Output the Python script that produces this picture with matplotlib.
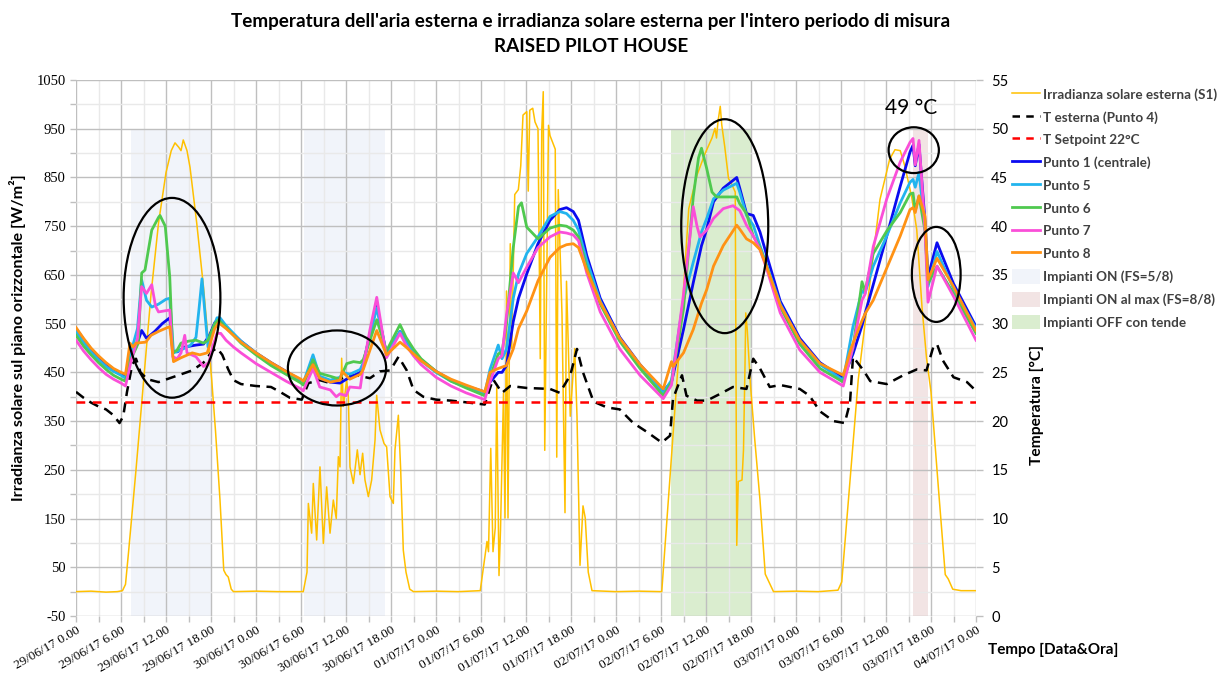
import matplotlib
matplotlib.use("Agg")
import matplotlib.pyplot as plt
from matplotlib.patches import Ellipse, Patch
from matplotlib.lines import Line2D
from matplotlib.ticker import MultipleLocator, FixedLocator

# ---------------- data (time in hours from 29/06/17 0.00) ----------------
tick_hours = list(range(0, 121, 6))
tick_labels = [
    "29/06/17 0.00", "29/06/17 6.00", "29/06/17 12.00", "29/06/17 18.00",
    "30/06/17 0.00", "30/06/17 6.00", "30/06/17 12.00", "30/06/17 18.00",
    "01/07/17 0.00", "01/07/17 6.00", "01/07/17 12.00", "01/07/17 18.00",
    "02/07/17 0.00", "02/07/17 6.00", "02/07/17 12.00", "02/07/17 18.00",
    "03/07/17 0.00", "03/07/17 6.00", "03/07/17 12.00", "03/07/17 18.00",
    "04/07/17 0.00",
]

# Solar irradiance S1 [W/m2]
irr_t = [0, 2, 4, 5.5, 6.2, 6.6, 7.0, 8.0, 9.0, 10.0, 11.0, 12.0, 12.7, 13.2, 13.7, 14.0, 14.3,
         14.8, 15.2, 16.1, 17.0, 18.1, 18.6, 19.2, 19.7, 20.0, 20.3, 20.7, 21.0, 24, 27, 30.3,
         30.8, 30.98, 31.42, 31.64, 32.09, 32.53, 32.98, 33.42, 33.87, 34.31, 34.7, 34.98, 35.2,
         35.42, 35.64, 36.09, 36.31, 36.53, 36.98, 37.51, 37.87, 38.22, 38.53, 38.98, 39.42,
         39.87, 40.09, 40.53, 41.07, 41.42, 41.87, 42.31, 42.53, 42.98, 43.29, 43.64, 44.0,
         44.5, 45.0, 48, 51, 53.9, 54.3, 54.8, 55.0, 55.3, 55.6, 55.9, 56.1, 56.4, 56.6, 57.0,
         57.2, 57.4, 57.6, 57.9, 58.1, 58.5, 58.98, 59.3, 59.6, 60.1, 60.3, 60.5, 60.9, 61.2,
         61.6, 61.9, 62.1, 62.3, 62.5, 63.0, 63.2, 63.9, 64.1, 64.3, 64.8, 65.2, 65.4, 65.9,
         66.5, 66.8, 67.2, 67.6, 67.9, 68.3, 68.8, 72, 75, 78.1, 79.5, 81.0, 81.7, 82.8, 83.9,
         84.8, 85.2, 85.4, 85.6, 85.9, 86.1, 86.5, 87.0, 87.4, 87.9, 88.1, 88.3, 88.8, 89.0,
         89.2, 89.3, 89.5, 89.9, 90.5, 91.2, 91.9, 93.0, 96, 99, 101.6, 102.1, 104.3, 105.9,
         107.2, 108.5, 109.2, 109.9, 110.5, 111.4, 112.1, 112.8, 113.4, 114.0, 115.0, 115.9,
         116.3, 116.9, 118, 120]
irr_v = [0, 1, -1, 0, 2, 15, 80, 250, 430, 610, 756, 860, 905, 921, 912, 905, 927,
         905, 871, 756, 625, 434, 330, 188, 44, 35, 30, 5, 0, 1, 0, 0,
         40, 181, 120, 222, 106, 256, 99, 215, 120, 188, 150, 277, 256,
         479, 380, 434, 400, 256, 222, 291, 240, 284, 229, 195, 229,
         311, 403, 332, 304, 297, 195, 181, 291, 362, 250, 85, 40,
         5, 0, 1, 0, 2, 47, 103, 82, 294, 82, 131, 419, 33, 127, 408,
         151, 617, 151, 714, 499, 815, 825, 874, 978, 985, 822, 988, 992, 964,
         950, 478, 947, 1026, 290, 957, 936, 908, 276, 825, 568, 162, 637, 360,
         499, 360, 54, 176, 151, 40, 2, 0, 1, 0, 300, 620, 786, 855, 900,
         931, 951, 931, 965, 996, 958, 913, 848, 837, 820, 95, 226, 229, 291,
         464, 572, 537, 430, 312, 188, 36, 0, 1, 0, 3, 20, 435, 640,
         805, 888, 907, 905, 874, 812, 743, 584, 480, 410, 210, 35,
         26, 5, 2, 2]

# Outdoor air temperature, Punto 4 [degC]
text_t = [0, 1, 2, 3, 4, 5, 5.8, 6.3, 6.8, 7.5, 8.0, 8.6, 9.5, 11.0, 12.5, 14.0, 15.5, 17.0,
          18.2, 18.8, 19.5, 20.3, 21.0, 22.0, 24.0, 26.0, 27.2, 28.5, 30.1, 31.0, 32.5, 33.9,
          36.1, 37.4, 39.2, 40.5, 41.9, 43.0, 44.1, 45.0, 46.3, 48.0, 50.0, 51.2, 54.5, 55.6,
          56.8, 57.9, 60.1, 63.2, 64.5, 65.9, 66.8, 67.6, 69.0, 70.8, 72.5, 74.3, 76.1, 78.1,
          79.2, 79.6, 80.8, 81.4, 82.8, 84.1, 85.9, 87.6, 89.4, 90.3, 91.2, 92.5, 93.9, 96.5,
          97.8, 99.2, 101.0, 102.5, 103.2, 103.6, 105.0, 105.9, 108.1, 110.3, 112.1, 113.4,
          114.3, 114.8, 115.6, 117.0, 118.8, 120.0]
text_v = [23.0, 22.4, 21.9, 21.5, 21.2, 20.6, 19.8, 20.5, 23.0, 25.8, 26.4, 25.0, 24.3, 24.0,
          24.4, 24.8, 25.2, 26.0, 27.2, 27.5, 26.8, 25.3, 24.2, 23.8, 23.6, 23.5, 23.0, 22.4,
          22.2, 23.9, 24.2, 23.9, 24.6, 24.7, 24.4, 25.1, 25.2, 26.6, 25.2, 23.2, 22.5, 22.2,
          22.1, 22.0, 21.7, 24.3, 22.9, 23.6, 23.4, 23.3, 22.9, 24.7, 27.4, 25.0, 22.0, 21.4,
          21.2, 19.8, 18.9, 17.8, 18.5, 22.3, 24.7, 22.6, 22.1, 22.1, 22.8, 23.5, 23.3, 26.4,
          25.4, 23.5, 23.7, 23.3, 22.6, 21.0, 20.0, 19.8, 21.9, 26.6, 25.2, 24.1, 23.8, 24.7,
          25.3, 25.2, 27.6, 27.9, 26.2, 24.5, 24.0, 23.1]

setpoint_t = [0, 120]
setpoint_v = [22, 22]

# Punto 1 (centrale)
p1_t = [0, 1, 2, 3, 4, 5, 6, 6.6, 7.3, 8.0, 8.75, 9.4, 10.5, 11.5, 12.5, 12.9, 13.5, 14.5, 16.0,
        17.0, 17.8, 18.5, 19.0, 20, 21, 22, 24, 26, 28, 30, 30.3, 31.6, 32.5, 33.9, 35.2, 36.5,
        37.9, 38.3, 39.2, 40.1, 41.4, 43.2, 44, 45, 46, 48, 50, 52, 54.5, 55.2, 56.3, 56.8,
        57.4, 58.3, 59.0, 60.1, 61.6, 63.2, 64.5, 65.4, 66.3, 67.0, 68.1, 69.9, 72.5, 75.2,
        78.3, 79.4, 81.0, 82.3, 83.4, 84.1, 85.0, 86.3, 88.1, 88.5, 89.4, 90.3, 91.2, 92.1,
        93.9, 96.5, 99.2, 102.3, 103.6, 104.8, 105.2, 106.3, 108.1, 109.9, 111.2, 111.6,
        111.9, 112.4, 113.2, 113.6, 114.8, 117.0, 120]
p1_v = [29.5, 28.4, 27.4, 26.6, 25.9, 25.3, 24.9, 24.6, 26.8, 27.6, 29.3, 28.5, 29.2, 30.0,
        30.6, 27.2, 27.1, 27.6, 27.8, 27.9, 28.8, 30.1, 30.5, 29.7, 28.9, 28.2, 27.0, 26.0,
        25.1, 24.2, 24.0, 25.9, 24.4, 24.0, 23.9, 24.5, 25.0, 25.8, 29.0, 31.9, 26.8, 29.2,
        28.3, 27.2, 26.3, 25.1, 24.2, 23.6, 23.0, 24.0, 25.0, 25.0, 25.7, 30.2, 32.6, 35.1,
        38.2, 40.6, 41.7, 41.9, 41.5, 40.6, 37.0, 32.6, 28.6, 25.8, 23.1, 24.0, 29.4, 34.2,
        38.0, 39.7, 42.5, 43.9, 45.0, 43.9, 41.3, 41.1, 39.4, 37.0, 32.3, 28.5, 26.0, 24.4,
        26.9, 29.8, 31.0, 34.0, 39.0, 44.1, 47.6, 48.3, 46.2, 48.4, 40.5, 34.8, 38.3, 34.1,
        29.7]

# Punto 5
p5_t = [0, 1, 2, 3, 4, 5, 6, 6.6, 7.3, 8.2, 8.75, 9.4, 10.1, 11.0, 12.0, 12.5, 13.0, 14.0, 15.3,
        16.0, 16.4, 16.8, 17.2, 17.6, 18.2, 18.8, 19.2, 20, 21, 22, 24, 26, 28, 30, 30.3, 31.6,
        32.5, 33.9, 35.2, 35.6, 36.5, 37.9, 38.3, 39.2, 40.1, 41.4, 43.2, 44, 45, 46, 48, 50,
        52, 54.5, 55.2, 56.3, 56.8, 57.4, 58.3, 59.0, 60.1, 61.6, 63.2, 64.5, 65.4, 66.3, 67.0,
        68.1, 69.9, 72.5, 75.2, 78.3, 79.4, 81.0, 82.3, 83.4, 84.1, 85.0, 86.3, 88.1, 88.5,
        89.4, 90.3, 91.2, 92.1, 93.9, 96.5, 99.2, 102.3, 103.6, 104.8, 105.2, 106.3, 108.1,
        109.9, 111.2, 111.6, 111.9, 112.4, 113.2, 113.6, 114.8, 117.0, 120]
p5_v = [29.2, 28.1, 27.1, 26.3, 25.6, 25.1, 24.7, 24.4, 27.0, 29.5, 34.5, 32.4, 31.7, 32.0,
        32.5, 32.6, 27.0, 27.3, 27.8, 28.6, 31.5, 34.6, 31.0, 27.6, 29.3, 30.6, 30.6, 29.8,
        29.0, 28.2, 27.0, 25.9, 25.0, 24.1, 23.9, 26.8, 24.6, 24.2, 24.5, 25.0, 24.8, 25.3,
        26.0, 28.8, 31.6, 27.0, 29.2, 28.2, 27.1, 26.2, 25.0, 24.1, 23.5, 22.8, 25.3, 27.8,
        26.4, 27.4, 32.6, 35.1, 37.2, 38.9, 41.0, 41.5, 41.3, 40.6, 39.6, 36.5, 32.3, 28.4,
        25.6, 22.9, 24.2, 32.5, 36.3, 39.4, 40.8, 42.8, 43.7, 44.4, 43.5, 41.1, 40.1, 38.0,
        36.0, 32.0, 28.2, 25.8, 24.2, 29.7, 33.4, 33.1, 35.9, 39.0, 42.4, 44.5, 44.8, 44.0,
        45.5, 40.0, 33.8, 37.4, 33.6, 29.5]

# Punto 6
p6_t = [0, 1, 2, 3, 4, 5, 6, 6.6, 7.3, 8.3, 8.76, 9.2, 10.1, 11.0, 11.2, 11.9, 12.3, 12.5, 12.9,
        13.5, 14.0, 15.0, 16.0, 17.0, 17.6, 18.5, 19.0, 20, 21, 22, 24, 26, 28, 30, 30.3, 31.6,
        32.5, 33.9, 35.2, 36.1, 37.0, 37.9, 38.3, 39.2, 40.1, 41.4, 43.2, 44, 45, 46, 48, 50,
        52, 54.5, 55.2, 56.3, 56.8, 57.4, 58.3, 59.0, 59.4, 60.1, 61.6, 63.2, 64.5, 65.4,
        66.3, 67.0, 68.1, 69.9, 72.5, 75.2, 78.3, 79.4, 81.0, 82.3, 83.0, 83.4, 84.1, 84.8,
        85.4, 88.1, 88.5, 89.4, 90.3, 91.2, 92.1, 93.9, 96.5, 99.2, 102.3, 103.6, 104.8,
        105.2, 106.3, 108.1, 109.9, 111.2, 111.6, 111.9, 112.4, 113.2, 113.6, 114.8, 117.0,
        120]
p6_v = [28.8, 27.7, 26.8, 26.0, 25.3, 24.7, 24.3, 24.1, 26.3, 28.0, 35.2, 35.5, 39.6, 40.9,
        41.1, 40.0, 36.5, 34.8, 27.0, 27.3, 28.0, 28.2, 28.3, 28.0, 28.3, 30.0, 30.4, 29.6,
        28.8, 28.0, 26.8, 25.7, 24.8, 23.9, 23.7, 26.3, 24.9, 24.6, 24.3, 25.9, 26.1, 26.0,
        26.3, 28.3, 30.4, 27.2, 29.9, 28.6, 27.4, 26.4, 25.1, 24.1, 23.4, 22.6, 24.5, 26.9,
        27.1, 30.0, 37.8, 42.0, 42.4, 39.9, 38.7, 39.8, 40.1, 40.0, 39.6, 38.9, 35.8, 32.0,
        28.2, 25.4, 22.6, 24.0, 31.5, 43.0, 47.0, 48.0, 45.9, 43.5, 43.0, 43.0, 42.3, 41.3,
        39.0, 37.8, 35.8, 31.7, 27.9, 25.4, 24.0, 27.5, 34.3, 33.3, 37.2, 39.5, 41.4, 43.3,
        43.4, 41.6, 43.1, 39.5, 34.1, 35.9, 33.1, 29.0]

# Punto 7
p7_t = [0, 1, 2, 3, 4, 5, 6, 6.6, 7.3, 8.2, 8.75, 9.4, 10.1, 10.6, 11.0, 12.5, 12.9, 13.5, 14.0,
        14.5, 14.8, 16.0, 17.0, 17.7, 18.3, 18.8, 19.3, 20, 21, 22, 24, 26, 28, 30, 30.3, 31.6,
        32.5, 33.9, 34.7, 35.2, 36.0, 36.5, 37.9, 38.3, 39.2, 40.1, 41.4, 43.2, 44, 45, 46,
        48, 50, 52, 54.5, 55.2, 56.3, 56.8, 57.4, 58.3, 59.0, 60.1, 61.6, 63.2, 64.5, 65.4,
        66.3, 67.0, 68.1, 69.9, 72.5, 75.2, 78.3, 79.4, 81.0, 82.3, 82.8, 83.2, 84.1, 85.0,
        86.3, 87.6, 88.5, 89.4, 90.3, 91.2, 92.1, 93.9, 96.5, 99.2, 102.3, 103.6, 104.8,
        105.2, 106.3, 108.1, 109.9, 111.2, 111.6, 111.9, 112.4, 113.2, 113.6, 114.8, 117.0,
        120]
p7_v = [28.3, 27.2, 26.3, 25.5, 24.8, 24.3, 23.9, 23.6, 26.0, 28.5, 33.8, 33.1, 34.0, 31.8,
        31.2, 31.4, 26.6, 26.4, 27.0, 28.8, 27.0, 26.6, 25.6, 26.0, 27.8, 29.0, 29.0, 28.3,
        27.6, 27.0, 25.9, 25.0, 24.1, 23.3, 23.1, 25.4, 23.5, 23.2, 22.5, 22.8, 22.6, 23.5,
        23.4, 25.6, 29.4, 32.7, 26.5, 29.0, 27.8, 26.7, 25.8, 24.5, 23.6, 22.9, 22.2, 24.0,
        26.4, 26.7, 30.9, 35.2, 34.2, 35.8, 37.8, 38.9, 39.4, 39.3, 39.1, 38.5, 35.2, 31.2,
        27.4, 24.7, 22.3, 23.7, 33.0, 42.0, 40.0, 38.9, 39.6, 40.8, 41.8, 42.1, 41.6, 40.1,
        39.0, 37.6, 35.6, 31.1, 27.3, 25.0, 23.6, 27.6, 32.4, 33.0, 37.9, 42.8, 46.6, 48.6,
        49.0, 46.3, 48.8, 39.7, 32.2, 35.9, 32.8, 28.3]

# Punto 8
p8_t = [0, 1, 2, 3, 4, 5, 6, 6.6, 7.2, 7.6, 8.0, 9.3, 10.0, 11.0, 12.5, 13.0, 14.0, 15.5, 16.5,
        17.5, 18.5, 19.0, 20, 21, 22, 24, 26, 28, 30, 30.3, 31.6, 32.5, 33.9, 35.2, 35.5, 36.5,
        37.9, 38.3, 39.2, 40.1, 41.4, 43.2, 44, 45, 46, 48, 50, 52, 54.5, 55.2, 56.3, 57.4,
        58.3, 59.0, 60.1, 61.6, 63.2, 64.5, 65.4, 66.3, 67.0, 68.1, 69.9, 72.5, 75.2, 78.3,
        79.4, 79.6, 81.0, 82.3, 83.4, 84.1, 85.0, 86.3, 88.1, 88.5, 89.4, 90.3, 91.2, 92.1,
        93.9, 96.5, 99.2, 102.3, 103.4, 104.8, 105.2, 106.3, 108.1, 109.9, 111.2, 111.6,
        111.9, 112.4, 113.2, 113.6, 114.8, 117.0, 120]
p8_v = [29.6, 28.5, 27.5, 26.7, 26.0, 25.4, 25.0, 24.8, 28.0, 27.6, 28.0, 28.1, 28.8, 29.2,
        29.7, 26.1, 26.5, 27.0, 26.8, 27.0, 29.5, 30.1, 29.5, 28.8, 28.1, 27.0, 26.0, 25.1,
        24.3, 24.1, 25.8, 24.4, 24.0, 24.2, 25.1, 24.3, 24.8, 25.3, 27.3, 29.3, 26.8, 28.1,
        27.6, 26.9, 26.2, 25.1, 24.3, 23.7, 23.0, 25.0, 25.4, 25.7, 27.4, 29.5, 31.3, 34.4,
        36.8, 37.8, 38.1, 38.2, 37.8, 35.5, 32.2, 28.5, 25.8, 23.3, 26.1, 25.6, 27.0, 29.4,
        32.1, 33.5, 35.9, 38.0, 40.1, 39.7, 38.7, 38.3, 37.6, 35.8, 31.9, 28.3, 25.9, 24.7,
        27.6, 30.3, 31.0, 32.4, 35.7, 39.0, 41.7, 41.9, 41.4, 43.1, 41.0, 34.5, 36.7, 33.8,
        29.3]

# Operating periods [start h, end h]
on_periods = [(7.3, 18.0), (30.4, 41.2)]
on_max_periods = [(111.6, 113.6)]
off_tende_periods = [(79.3, 90.0)]

# ---------------- figure ----------------
fig = plt.figure(figsize=(12.22, 6.73), dpi=100)
ax = fig.add_axes([76 / 1222, 1 - 616 / 673, 900 / 1222, 536 / 673])
ax2 = ax.twinx()

ax.set_xlim(0, 120)
ax.set_ylim(-50, 1050)
ax2.set_ylim(0, 55)

c_on = (100 / 255, 140 / 255, 200 / 255)
c_max = (190 / 255, 120 / 255, 120 / 255)
c_off = (120 / 255, 190 / 255, 80 / 255)
a_on, a_max, a_off = 0.09, 0.2, 0.27

span_top = 950
for a, b in on_periods:
    ax.fill_between([a, b], -50, span_top, color=c_on, alpha=a_on, lw=0, zorder=0.5)
for a, b in on_max_periods:
    ax.fill_between([a, b], -50, span_top, color=c_max, alpha=a_max, lw=0, zorder=0.5)
for a, b in off_tende_periods:
    ax.fill_between([a, b], -50, span_top, color=c_off, alpha=a_off, lw=0, zorder=0.5)

ax.plot(irr_t, irr_v, color="#FFC000", lw=1.1, zorder=3)

# grid
ax.xaxis.set_major_locator(FixedLocator(tick_hours))
ax.xaxis.set_minor_locator(MultipleLocator(3))
ax.yaxis.set_major_locator(MultipleLocator(100, offset=50))
ax.yaxis.set_minor_locator(MultipleLocator(100))
ax.grid(which="major", color="#BFBFBF", lw=1.0, zorder=0)
ax.grid(which="minor", color="#E9E9E9", lw=1.0, zorder=0)
ax.set_axisbelow(True)

for sp in ax.spines.values():
    sp.set_visible(False)
for sp in ax2.spines.values():
    sp.set_visible(False)

ax.set_xticks(tick_hours)
ax.set_xticklabels(tick_labels, rotation=30, ha="right", rotation_mode="anchor",
                   fontfamily="Liberation Serif", fontsize=9.5)
ax.set_yticks(range(-50, 1051, 100))
ax.set_yticklabels([str(v) for v in range(-50, 1051, 100)], fontfamily="Liberation Serif",
                   fontsize=10.5)
ax.tick_params(axis="both", which="both", color="#BFBFBF", length=4, width=1)
ax.tick_params(axis="x", which="major", pad=2)

ax2.set_yticks(range(0, 56, 5))
ax2.set_yticklabels([str(v) for v in range(0, 56, 5)], fontfamily="Lato", fontsize=10.5)
ax2.tick_params(axis="y", color="#BFBFBF", length=5, width=1, pad=6)

# temperatures (secondary axis)
ax2.plot(text_t, text_v, color="black", lw=1.8, dashes=(4, 2.6), zorder=3)
ax2.plot(setpoint_t, setpoint_v, color="#FF0000", lw=1.8, dashes=(3.5, 3), zorder=3)
ax2.plot(p1_t, p1_v, color="#0B0BF0", lw=2.0, zorder=4)
ax2.plot(p5_t, p5_v, color="#22B4EE", lw=2.0, zorder=4)
ax2.plot(p6_t, p6_v, color="#4FC94F", lw=2.0, zorder=4)
ax2.plot(p7_t, p7_v, color="#FA4FD8", lw=2.0, zorder=4)
ax2.plot(p8_t, p8_v, color="#FF9214", lw=2.0, zorder=4)

# highlighted zones
ellipses = [
    (12.8, 603, 12.9, 410),
    (34.8, 459, 13.1, 154),
    (86.5, 750, 11.6, 439),
    (111.7, 906, 6.7, 94),
    (114.7, 651, 6.5, 195),
]
for cx, cy, w, h in ellipses:
    ax2.add_patch(Ellipse((cx, cy), w, h, transform=ax.transData, fill=False,
                          edgecolor="black", lw=1.6, zorder=6))
ax2.text(111.3, 993, "49 °C", transform=ax.transData, ha="center", va="center",
         fontsize=15, fontfamily="Lato", zorder=6)

# titles and axis labels
fig.text(591 / 1222, 1 - 22 / 673,
         "Temperatura dell'aria esterna e irradianza solare esterna per l'intero periodo di misura",
         ha="center", va="center", fontsize=13.6, fontweight="bold", fontfamily="Lato")
fig.text(591 / 1222, 1 - 47 / 673, "RAISED PILOT HOUSE", ha="center", va="center",
         fontsize=13.6, fontweight="bold", fontfamily="Lato")
fig.text(18 / 1222, 1 - 338 / 673, "Irradianza solare sul piano orizzontale [W/m²]",
         rotation=90, ha="center", va="center", fontsize=11.6, fontweight="bold",
         fontfamily="Lato")
fig.text(1037 / 1222, 1 - 405 / 673, "Temperatura [°C]", rotation=90, ha="center",
         va="center", fontsize=11.2, fontweight="bold", fontfamily="Lato")
fig.text(988 / 1222, 1 - 650 / 673, "Tempo [Data&Ora]", ha="left", va="center",
         fontsize=11, fontweight="bold", fontfamily="Lato")

handles = [
    Line2D([], [], color="#FFC000", lw=1.1),
    Line2D([], [], color="black", lw=1.8, dashes=(3, 2.5)),
    Line2D([], [], color="#FF0000", lw=1.8, dashes=(3, 2.5)),
    Line2D([], [], color="#0B0BF0", lw=2.0),
    Line2D([], [], color="#22B4EE", lw=2.0),
    Line2D([], [], color="#4FC94F", lw=2.0),
    Line2D([], [], color="#FA4FD8", lw=2.0),
    Line2D([], [], color="#FF9214", lw=2.0),
    Patch(facecolor=c_on, alpha=a_on, lw=0),
    Patch(facecolor=c_max, alpha=a_max, lw=0),
    Patch(facecolor=c_off, alpha=a_off, lw=0),
]
labels = [
    "Irradianza solare esterna (S1)", "T esterna (Punto 4)", "T Setpoint 22°C",
    "Punto 1 (centrale)", "Punto 5", "Punto 6", "Punto 7", "Punto 8",
    "Impianti ON (FS=5/8)", "Impianti ON al max (FS=8/8)", "Impianti OFF con tende",
]
leg = fig.legend(handles, labels, loc="upper left", bbox_to_anchor=(1012 / 1222, 1 - 87 / 673),
                 frameon=False, prop={"family": "Lato", "weight": "bold", "size": 9.7},
                 handlelength=2.1, handleheight=1.3, handletextpad=0.2, labelspacing=0.6,
                 borderpad=0, borderaxespad=0)
for t in leg.get_texts():
    t.set_color("#404040")

fig.savefig("out.png", dpi=100, facecolor="white")
